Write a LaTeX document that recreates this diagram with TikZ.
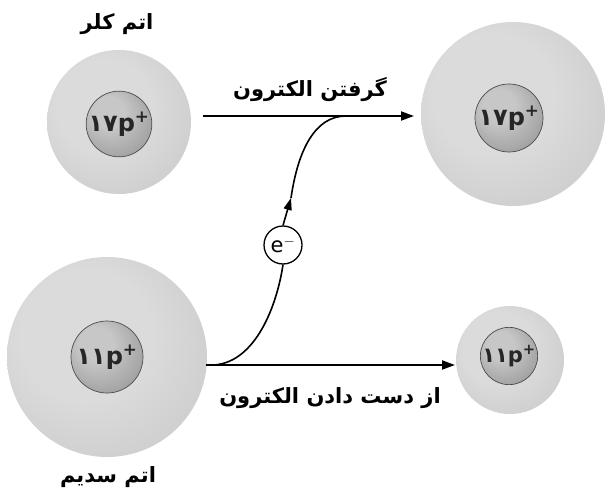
\documentclass[tikz,border=0pt]{standalone}
\usepackage{fontspec}
\setmainfont{DejaVu Sans}
\newfontfamily\fa[Script=Arabic]{DejaVu Sans}
\TeXXeTstate=1
\usetikzlibrary{arrows.meta}

% greys of the electron shells and of the nuclei
\definecolor{shellhi}{gray}{0.86}
\definecolor{shellmid}{gray}{0.77}
\definecolor{shellrim}{gray}{0.66}
\definecolor{corehi}{gray}{0.78}
\definecolor{coremid}{gray}{0.58}
\definecolor{corerim}{gray}{0.42}

% spherical shadings, lit from the upper left
\pgfdeclareradialshading{shell}{\pgfpoint{-8bp}{8bp}}{%
  color(0bp)=(shellhi); color(16bp)=(shellhi); color(42bp)=(shellmid); color(50bp)=(shellrim)}
\pgfdeclareradialshading{core}{\pgfpoint{-10bp}{12bp}}{%
  color(0bp)=(corehi); color(12bp)=(corehi); color(38bp)=(coremid); color(50bp)=(corerim)}

\begin{document}
\begin{tikzpicture}[x=1pt, y=-1pt,
  shellball/.style={circle, shading=shell, inner sep=0pt},
  coreball/.style={circle, shading=core, draw=black!70, line width=0.7pt, inner sep=0pt,
    text=black!85, font=\fa\bfseries\fontsize{24}{24}\selectfont},
  caption/.style={font=\fa\bfseries\fontsize{21}{24}\selectfont, inner sep=0pt},
  arrowline/.style={line width=2pt, -{Triangle[length=13pt,width=9pt]}},
  eline/.style={line width=1.6pt},
  electron/.style={circle, draw, line width=1.3pt, fill=white, inner sep=0pt,
    minimum size=38pt, font=\fontsize{21}{21}\selectfont}]

\useasboundingbox (0,0) rectangle (612,500);

% chlorine atom and chloride ion
\node[shellball, minimum size=144pt] (clatom) at (119,122) {};
\node[coreball, minimum size=64pt] (clcore) at (119,124) {۱۷p\textsuperscript{+}};
\node[shellball, minimum size=184pt] (clion) at (513,114) {};
\node[coreball, minimum size=68pt] (clioncore) at (509,118) {۱۷p\textsuperscript{+}};

% sodium atom and sodium ion
\node[shellball, minimum size=200pt] (naatom) at (107,357) {};
\node[coreball, minimum size=72pt] (nacore) at (107,357) {۱۱p\textsuperscript{+}};
\node[shellball, minimum size=108pt] (naion) at (510,360) {};
\node[coreball, minimum size=52pt, font=\fa\bfseries\fontsize{21}{21}\selectfont] (naioncore) at (509,356) {۱۱p\textsuperscript{+}};

% captions
\node[caption] (cltitle) at (117,24) {\beginR اتم کلر\endR};
\node[caption] (natitle) at (108,477) {\beginR اتم سدیم\endR};
\node[caption] (gaintext) at (310,90) {\beginR گرفتن الکترون\endR};
\node[caption] (losetext) at (330,398) {\beginR از دست دادن الکترون\endR};

% reaction arrows
\coordinate (gainstart) at (203,116);
\coordinate (gainend) at (414,116);
\coordinate (losestart) at (206,365);
\coordinate (loseend) at (455,365);
\draw[arrowline] (gainstart) -- (gainend);
\draw[arrowline] (losestart) -- (loseend);

% the electron passing from sodium to chlorine
\node[electron] (el) at (283,245) {e$^{-}$};
\coordinate (branch) at (214,365);
\coordinate (tip) at (291,198);
\coordinate (join) at (346,116);
\draw[eline] (branch) .. controls (256,362) and (277,305) .. (el.south);
\draw[eline, -{Triangle[length=12pt,width=8pt]}] (el.north) -- (tip);
\draw[eline] (tip) .. controls (298,150) and (315,116) .. (join);

\end{tikzpicture}
\end{document}
